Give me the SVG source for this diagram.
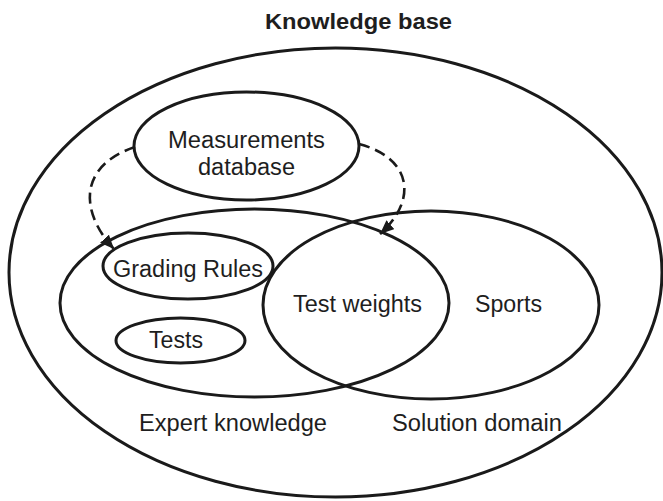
<svg xmlns="http://www.w3.org/2000/svg" width="663" height="501" viewBox="0 0 663 501">
  <style>
    .ring { fill: none; stroke: #1a1a1a; stroke-width: 3; }
    .lbl { font-family: "Liberation Sans", Arial, sans-serif; font-size: 23px; fill: #1e1e1e; text-anchor: middle; }
    .title { font-family: "Liberation Sans", Arial, sans-serif; font-size: 22px; font-weight: bold; fill: #1e1e1e; text-anchor: middle; }
    .flow { fill: none; stroke: #1a1a1a; stroke-width: 2.6; stroke-dasharray: 11 6; }
  </style>
  <defs>
    <marker id="head" markerUnits="userSpaceOnUse" markerWidth="16" markerHeight="14" refX="14" refY="6" orient="auto">
      <path d="M0,0 L14,6 L0,12 Z" fill="#1a1a1a"/>
    </marker>
  </defs>
  <rect width="663" height="501" fill="#ffffff"/>

  <g id="knowledge-base">
    <ellipse class="ring" cx="335.5" cy="272.5" rx="326.5" ry="224.5"/>
    <text class="title" x="358.5" y="29" textLength="187" lengthAdjust="spacingAndGlyphs">Knowledge base</text>
  </g>

  <g id="measurements-database">
    <ellipse class="ring" cx="246.5" cy="146" rx="112.5" ry="54"/>
    <text class="lbl" x="246.5" y="148" textLength="157" lengthAdjust="spacingAndGlyphs">Measurements</text>
    <text class="lbl" x="246.5" y="175" textLength="97" lengthAdjust="spacingAndGlyphs">database</text>
  </g>

  <g id="expert-knowledge">
    <ellipse class="ring" cx="254.5" cy="303" rx="194.5" ry="94"/>
    <text class="lbl" x="233" y="431" textLength="188" lengthAdjust="spacingAndGlyphs">Expert knowledge</text>
  </g>

  <g id="solution-domain">
    <ellipse class="ring" cx="431" cy="305" rx="168" ry="94"/>
    <text class="lbl" x="508.5" y="312" textLength="67" lengthAdjust="spacingAndGlyphs">Sports</text>
    <text class="lbl" x="477" y="431" textLength="170" lengthAdjust="spacingAndGlyphs">Solution domain</text>
  </g>

  <g id="test-weights">
    <text class="lbl" x="357.5" y="312" textLength="129" lengthAdjust="spacingAndGlyphs">Test weights</text>
  </g>

  <g id="grading-rules">
    <ellipse class="ring" cx="188" cy="266" rx="85" ry="33"/>
    <text class="lbl" x="188" y="277" textLength="150" lengthAdjust="spacingAndGlyphs">Grading Rules</text>
  </g>

  <g id="tests">
    <ellipse class="ring" cx="180.5" cy="340.5" rx="64.5" ry="22.5"/>
    <text class="lbl" x="176" y="348" textLength="54" lengthAdjust="spacingAndGlyphs">Tests</text>
  </g>

  <g id="connectors">
    <path class="flow" d="M135,147 C 80,165 78,210 114,249" marker-end="url(#head)"/>
    <path class="flow" d="M359,144 C 412,158 418,200 380,234" marker-end="url(#head)"/>
  </g>
</svg>
